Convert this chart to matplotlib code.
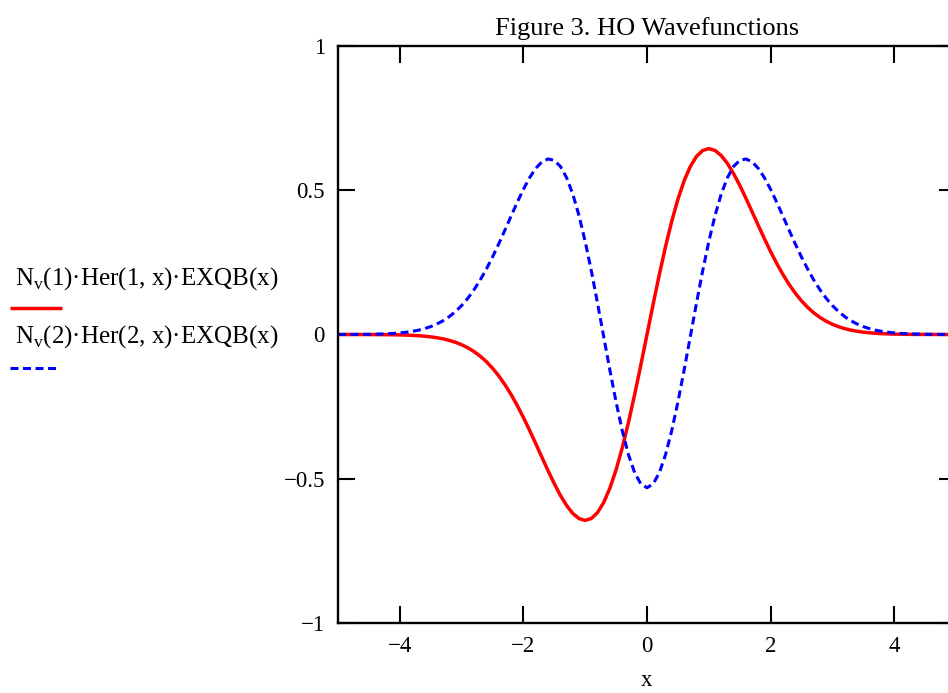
import numpy as np
from matplotlib import pyplot as plt

# values, x from 0 to 5 in steps of 0.1
x_pos = np.round(np.arange(0, 5.0001, 0.1), 1)

psi1_pos = [0.0, 0.1057, 0.2083, 0.3047, 0.3923, 0.4687, 0.5324, 0.5820, 0.6171, 0.6377,
            0.6443, 0.6381, 0.6205, 0.5932, 0.5582, 0.5173, 0.4726, 0.4257, 0.3784, 0.3320,
            0.2875, 0.2459, 0.2078, 0.1735, 0.1431, 0.1167, 0.0940, 0.0749, 0.0590, 0.0460,
            0.0354, 0.0270, 0.0203, 0.0151, 0.0112, 0.0081, 0.0059, 0.0042, 0.0029, 0.0021,
            0.0014, 0.0010, 0.0007, 0.0004, 0.0003, 0.0002, 0.0001, 0.0001, 0.0, 0.0, 0.0]
psi2_pos = [-0.5312, -0.5180, -0.4790, -0.4164, -0.3335, -0.2344, -0.1242, -0.0083, 0.1080, 0.2197,
            0.3222, 0.4119, 0.4861, 0.5431, 0.5822, 0.6036, 0.6085, 0.5986, 0.5761, 0.5434,
            0.5032, 0.4580, 0.4100, 0.3613, 0.3137, 0.2684, 0.2265, 0.1884, 0.1547, 0.1254,
            0.1003, 0.0793, 0.0619, 0.0477, 0.0363, 0.0273, 0.0203, 0.0149, 0.0108, 0.0078,
            0.0055, 0.0039, 0.0027, 0.0018, 0.0013, 0.0008, 0.0006, 0.0004, 0.0002, 0.0002, 0.0001]

# n=1 is odd, n=2 is even
x = np.concatenate([-x_pos[:0:-1], x_pos])
psi1 = [-v for v in psi1_pos[:0:-1]] + psi1_pos
psi2 = psi2_pos[:0:-1] + psi2_pos

x_ticks = [-4, -2, 0, 2, 4]
y_ticks = [-1, -0.5, 0, 0.5, 1]
x_ticklabels = ['−4', '−2', '0', '2', '4']
y_ticklabels = ['−1', '−0.5', '0', '0.5', '1']
label1 = 'N$_\\mathregular{v}$(1)·Her(1, x)·EXQB(x)'
label2 = 'N$_\\mathregular{v}$(2)·Her(2, x)·EXQB(x)'
title = 'Figure 3. HO Wavefunctions'

plt.rcParams['font.family'] = ['Liberation Serif', 'DejaVu Serif']
plt.rcParams['mathtext.fontset'] = 'custom'
plt.rcParams['mathtext.rm'] = 'Liberation Serif'

W, H = 948, 693
fig = plt.figure(figsize=(W / 100, H / 100), dpi=100)
# x -5..5 -> px 338..956, so the right spine falls just off the figure
ax = fig.add_axes([338 / W, 1 - 623 / H, (956 - 338) / W, (623 - 46) / H])

red_kw = dict(color='#ff0000', lw=2.5, solid_capstyle='butt')
blue_kw = dict(color='#0000ff', lw=2.2, dashes=(2.6, 1.5), dash_capstyle='butt')

ax.plot(x, psi1, **red_kw)
ax.plot(x, psi2, **blue_kw)

ax.set_xlim(-5, 5)
ax.set_ylim(-1, 1)
ax.set_xticks(x_ticks)
ax.set_yticks(y_ticks)
ax.set_xticklabels(x_ticklabels)
ax.set_yticklabels(y_ticklabels)
ax.tick_params(direction='in', length=12, width=1.5, labelsize=16.5,
               top=True, right=True)
ax.tick_params(axis='x', pad=9)
ax.tick_params(axis='y', pad=9.4)
for s in ax.spines.values():
    s.set_linewidth(1.7)

ax.set_xlabel('x', fontsize=16.5, labelpad=10)
ax.set_title(title, fontsize=19, pad=8)

# Mathcad-style legend at the left
fig.text(15 / W, 1 - 285 / H, label1, fontsize=18, va='baseline')
fig.text(15 / W, 1 - 343 / H, label2, fontsize=18, va='baseline')
fig.add_artist(plt.Line2D([10 / W, 62 / W], [1 - 308 / H] * 2, **red_kw))
fig.add_artist(plt.Line2D([10 / W, 56 / W], [1 - 368 / H] * 2, **blue_kw))

fig.savefig('out.png', dpi=100)
